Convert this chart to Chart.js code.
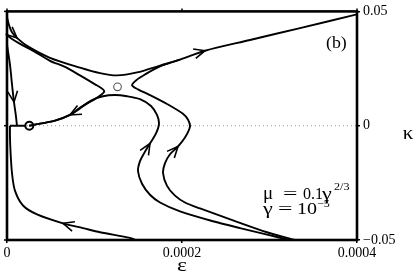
<!DOCTYPE html>
<html><head><meta charset="utf-8">
<script src="https://cdn.jsdelivr.net/npm/chart.js@4/dist/chart.umd.min.js"></script>
<style>html,body{margin:0;padding:0;background:#fff;overflow:hidden}</style>
</head><body><canvas id="c" width="415" height="277"></canvas>
<script>
// axis ticks
const xTicks = [0, 0.0002, 0.0004];
const xTickLabels = ['0', '0.0002', '0.0004'];
const yTicks = [-0.05, 0, 0.05];
const yTickLabels = ['\u22120.05', '0', '0.05'];

// trajectory A: from upper-left, over the saddle, out to upper right
const epsA = [0, 0.0000023, 0.0000057, 0.0000114, 0.0000229, 0.0000491, 0.0000834, 0.0001063, 0.0001257, 0.0001486, 0.0001749, 0.0001977, 0.0002263, 0.0002777, 0.0003349, 0.0004];
const kapA = [0.0474, 0.0440, 0.0409, 0.0384, 0.0349, 0.0297, 0.0254, 0.0230, 0.0220, 0.0233, 0.0263, 0.0289, 0.0328, 0.0375, 0.0427, 0.0487];

// trajectory B: from upper-left, around the left of the saddle, down to the fixed point
const epsB = [0, 0.0000057, 0.0000149, 0.0000320, 0.0000491, 0.0000663, 0.0000834, 0.0001006, 0.0001097, 0.0001109, 0.0001040, 0.0000891, 0.0000720, 0.0000549, 0.0000377, 0.0000255];
const kapB = [0.0397, 0.0379, 0.0358, 0.0323, 0.0284, 0.0257, 0.0220, 0.0181, 0.0159, 0.0147, 0.0125, 0.0091, 0.0047, 0.0022, 0.0009, 0];

// trajectory C: near-vertical drop close to eps = 0
const epsC = [0, 0.0000034, 0.0000057, 0.0000080, 0.0000103, 0.0000114];
const kapC = [0.0353, 0.0267, 0.0181, 0.0103, 0.0039, 0];

// trajectory D: from the bottom, leftwards, up along eps ~ 0
const epsD = [0.0001474, 0.0001406, 0.0001063, 0.0000869, 0.0000640, 0.0000343, 0.0000183, 0.0000091, 0.0000057, 0.0000040, 0.0000034, 0.0000034];
const kapD = [-0.0500, -0.0491, -0.0466, -0.0448, -0.0427, -0.0388, -0.0349, -0.0284, -0.0207, -0.0112, -0.0047, 0];
const epsStub = [0.0000034, 0.0000206];
const kapStub = [0, 0];

// trajectory E: inner rising curve, under the saddle, to the fixed point
const epsE = [0.0003223, 0.0002949, 0.0002663, 0.0002354, 0.0001977, 0.0001749, 0.0001634, 0.0001543, 0.0001497, 0.0001520, 0.0001566, 0.0001634, 0.0001703, 0.0001737, 0.0001714, 0.0001646, 0.0001520, 0.0001371, 0.0001234, 0.0001097, 0.0000971, 0.0000834, 0.0000720, 0.0000549, 0.0000377, 0.0000255];
const kapE = [-0.0500, -0.0474, -0.0448, -0.0418, -0.0375, -0.0336, -0.0302, -0.0254, -0.0198, -0.0155, -0.0121, -0.0078, -0.0034, 0.0009, 0.0047, 0.0086, 0.0116, 0.0129, 0.0134, 0.0129, 0.0112, 0.0078, 0.0047, 0.0022, 0.0009, 0];

// trajectory F: outer rising curve, right of the saddle, joining the upper-right arm
const epsF = [0.0003291, 0.0002971, 0.0002583, 0.0002206, 0.0002034, 0.0001920, 0.0001829, 0.0001783, 0.0001806, 0.0001863, 0.0001954, 0.0002034, 0.0002091, 0.0002069, 0.0002011, 0.0001829, 0.0001634, 0.0001497, 0.0001429, 0.0001474, 0.0001577, 0.0001749, 0.0001977];
const kapF = [-0.0500, -0.0466, -0.0414, -0.0362, -0.0336, -0.0306, -0.0263, -0.0207, -0.0164, -0.0125, -0.0091, -0.0052, -0.0004, 0.0026, 0.0052, 0.0095, 0.0134, 0.0159, 0.0177, 0.0198, 0.0224, 0.0259, 0.0289];

// special points
const saddleEps = [0.0001263], saddleKap = [0.0170];
const fixedEps = [0.0000255], fixedKap = [0];
const zeroEps = [0, 0.0004], zeroKap = [0, 0];

// arrows: [curve name, point index]
const arrowSpecs = [['A', 3], ['A', 12], ['C', 3], ['E', 22], ['D', 4], ['E', 11], ['F', 10]];

const pts = (xs, ys) => xs.map((x, i) => ({x: x, y: ys[i]}));
const curve = (id, xs, ys) => ({
  id: id, data: pts(xs, ys), showLine: true, borderColor: '#000', borderWidth: 1.9,
  pointRadius: 0, tension: 0.3, fill: false
});

const datasets = [
  {id: 'fixed', data: pts(fixedEps, fixedKap), showLine: false, pointRadius: 4, borderWidth: 2,
   borderColor: '#000', backgroundColor: 'rgba(0,0,0,0)', pointStyle: 'circle'},
  {id: 'saddle', data: pts(saddleEps, saddleKap), showLine: false, pointRadius: 3.8, borderWidth: 1.1,
   borderColor: '#555', backgroundColor: 'rgba(0,0,0,0)', pointStyle: 'circle'},
  curve('A', epsA, kapA),
  curve('B', epsB, kapB),
  curve('C', epsC, kapC),
  curve('D', epsD, kapD),
  Object.assign(curve('S', epsStub, kapStub), {tension: 0}),
  curve('E', epsE, kapE),
  curve('F', epsF, kapF),
  {id: 'zero', data: pts(zeroEps, zeroKap), showLine: true, borderColor: '#999', borderWidth: 1,
   borderDash: [1, 3], pointRadius: 0, tension: 0}
];

const SERIF = '"Liberation Serif", "Times New Roman", serif';

function txt(ctx, s, x, y, size, sx, align) {
  ctx.save();
  ctx.font = size + 'px ' + SERIF;
  ctx.fillStyle = '#000';
  ctx.textBaseline = 'alphabetic';
  ctx.textAlign = align || 'left';
  ctx.translate(x, y);
  ctx.scale(sx || 1, 1);
  ctx.fillText(s, 0, 0);
  ctx.restore();
}

const decor = {
  id: 'decor',
  afterDatasetsDraw(chart) {
    const ctx = chart.ctx, a = chart.chartArea;
    const xs = chart.scales.x, ys = chart.scales.y;
    // arrows
    ctx.save();
    ctx.strokeStyle = '#000';
    ctx.lineWidth = 1.6;
    ctx.lineJoin = 'miter';
    arrowSpecs.forEach(([name, i]) => {
      const di = chart.data.datasets.findIndex(d => d.id === name);
      const m = chart.getDatasetMeta(di).data;
      const p = m[i], p0 = m[Math.max(0, i - 1)], p1 = m[Math.min(m.length - 1, i + 1)];
      const ang = Math.atan2(p1.y - p0.y, p1.x - p0.x);
      const L = 12, h = 0.42;
      ctx.beginPath();
      ctx.moveTo(p.x - L * Math.cos(ang - h), p.y - L * Math.sin(ang - h));
      ctx.lineTo(p.x, p.y);
      ctx.lineTo(p.x - L * Math.cos(ang + h), p.y - L * Math.sin(ang + h));
      ctx.stroke();
    });
    ctx.restore();
    // frame
    ctx.save();
    ctx.strokeStyle = '#000';
    ctx.lineWidth = 2.6;
    ctx.strokeRect(a.left, a.top, a.right - a.left, a.bottom - a.top);
    // ticks on top and left
    ctx.lineWidth = 1.5;
    xTicks.forEach(v => {
      const px = xs.getPixelForValue(v);
      ctx.beginPath(); ctx.moveTo(px, a.top); ctx.lineTo(px, a.top - 3); ctx.stroke();
    });
    yTicks.forEach(v => {
      const py = ys.getPixelForValue(v);
      ctx.beginPath(); ctx.moveTo(a.left, py); ctx.lineTo(a.left - 3, py); ctx.stroke();
    });
    ctx.restore();
    // texts
    txt(ctx, '(b)', a.right - 31, a.top + 37, 17, 1.05);
    const bx = a.right - 94;
    txt(ctx, '\u03bc', bx, a.top + 188, 18, 1.05);
    txt(ctx, '=', bx + 20, a.top + 188, 16, 1.6);
    txt(ctx, '0.1', bx + 40, a.top + 188, 16, 1.0);
    txt(ctx, '\u03b3', bx + 59, a.top + 188, 17, 1.3);
    txt(ctx, '2/3', bx + 71, a.top + 179, 11, 1.1);
    txt(ctx, '\u03b3', bx, a.top + 203, 17, 1.3);
    txt(ctx, '=', bx + 15, a.top + 203, 16, 1.6);
    txt(ctx, '10', bx + 34, a.top + 203, 16, 1.25);
    txt(ctx, '\u22125', bx + 54, a.top + 196, 11, 1.1);
    // axis titles
    txt(ctx, '\u03b5', xs.getPixelForValue(0.0002), a.bottom + 31, 18, 1.3, 'center');
    txt(ctx, '\u03ba', a.right + 51, ys.getPixelForValue(0) + 13, 19, 1.1, 'center');
  }
};

new Chart(document.getElementById('c'), {
  type: 'scatter',
  data: {datasets: datasets},
  options: {
    responsive: false,
    devicePixelRatio: 1,
    animation: false,
    events: [],
    layout: {padding: {left: 7, top: 8, right: 0, bottom: 0}},
    plugins: {legend: {display: false}, tooltip: {enabled: false}},
    scales: {
      x: {
        type: 'linear', position: 'bottom', min: 0, max: 0.0004,
        afterBuildTicks: s => { s.ticks = xTicks.map(v => ({value: v})); },
        afterFit: s => { s.height = 37; },
        ticks: {callback: v => xTickLabels[xTicks.indexOf(v)], font: {family: SERIF, size: 14},
                color: '#000', padding: 2, maxRotation: 0, autoSkip: false},
        grid: {drawOnChartArea: false, drawTicks: true, tickLength: 3, color: '#000', lineWidth: 1.5},
        border: {display: false}
      },
      y: {
        type: 'linear', position: 'right', min: -0.05, max: 0.05,
        afterBuildTicks: s => { s.ticks = yTicks.map(v => ({value: v})); },
        afterFit: s => { s.width = 58; },
        ticks: {callback: v => yTickLabels[yTicks.indexOf(v)], font: {family: SERIF, size: 14},
                color: '#000', padding: 3, autoSkip: false},
        grid: {drawOnChartArea: false, drawTicks: true, tickLength: 3, color: '#000', lineWidth: 1.5},
        border: {display: false}
      }
    }
  },
  plugins: [decor]
});
</script>
</body></html>
